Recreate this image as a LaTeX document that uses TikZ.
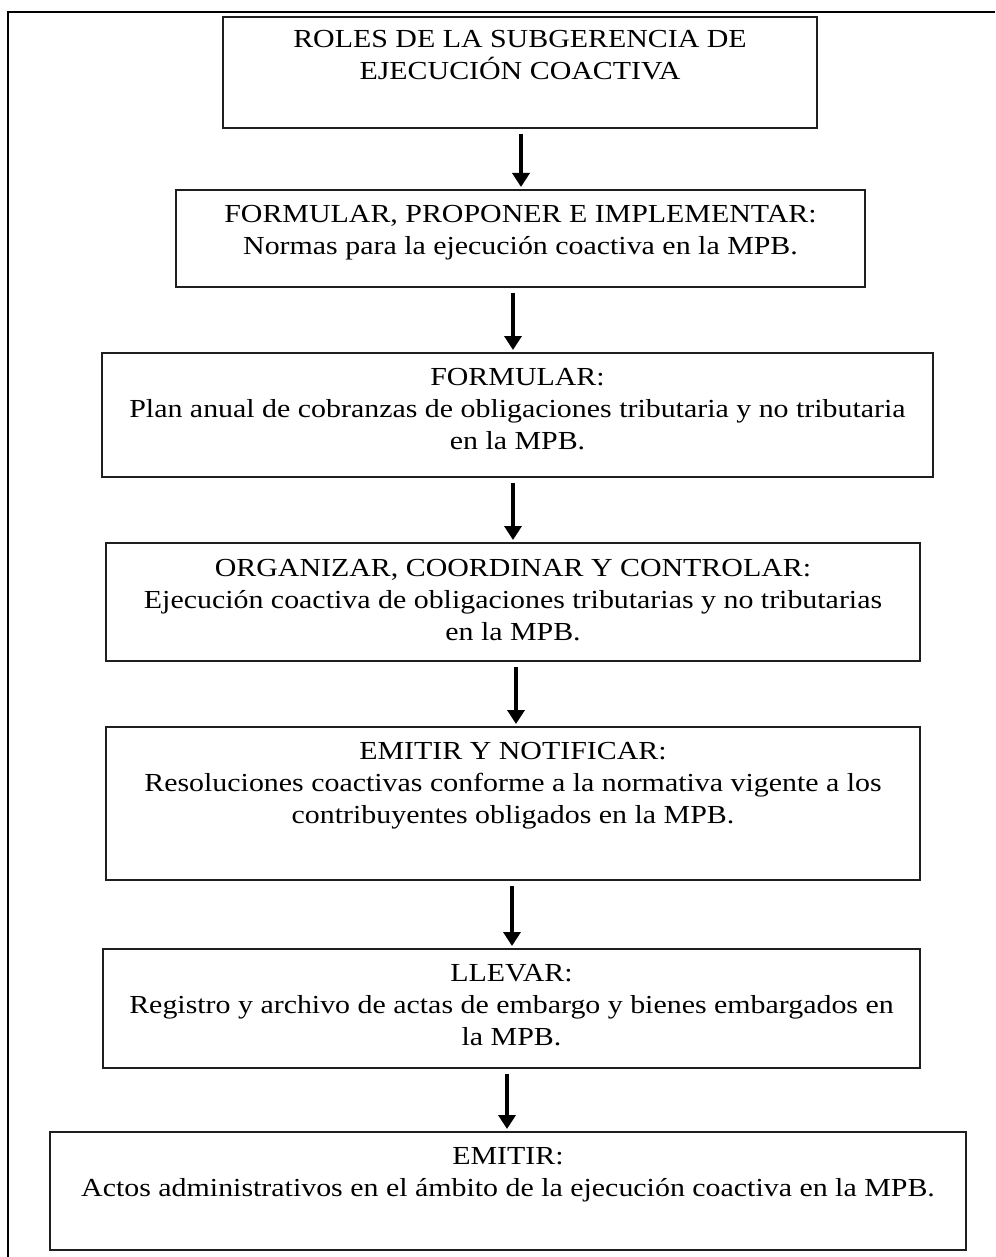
\documentclass[tikz,border=0pt]{standalone}
\usepackage{fontspec}
\setmainfont{Liberation Serif}[FakeStretch=1.15]
\usetikzlibrary{arrows.meta}
\begin{document}
\begin{tikzpicture}[x=1pt,y=-1pt,
  box/.style={draw=black!88, line width=2pt, inner sep=0pt, rectangle},
  lbl/.style={anchor=north, align=center, inner sep=0pt,
              font=\fontsize{26}{32}\selectfont,
              execute at begin node={\rule{0pt}{19pt}}},
  arr/.style={line width=4pt, -{Triangle[length=14pt,width=17pt]},
              shorten <=5pt, shorten >=2pt},
  frame/.style={line width=2pt, draw=black}]
\useasboundingbox (0,0) rectangle (995,1257);
\fill[white] (0,0) rectangle (995,1257);
% outer frame (top and left edges only, as cropped)
\coordinate (fr) at (995,12);
\coordinate (fc) at (8,12);
\coordinate (fb) at (8,1257);
\draw[frame] (fr) -- (fc) -- (fb);

% boxes
\node[box, minimum width=594pt, minimum height=111pt] (b1) at (520,72.5) {};
\node[box, minimum width=689pt, minimum height=97pt]  (b2) at (520.5,238.5) {};
\node[box, minimum width=831pt, minimum height=124pt] (b3) at (517.5,415) {};
\node[box, minimum width=814pt, minimum height=118pt] (b4) at (513,602) {};
\node[box, minimum width=814pt, minimum height=153pt] (b5) at (513,803.5) {};
\node[box, minimum width=817pt, minimum height=119pt] (b6) at (511.5,1008.5) {};
\node[box, minimum width=916pt, minimum height=118pt] (b7) at (508,1191) {};

% texts
\node[lbl] (t1) at ([yshift=-14.5pt]b1.north) {ROLES DE LA SUBGERENCIA DE\\EJECUCIÓN COACTIVA};
\node[lbl] (t2) at ([yshift=-16pt]b2.north) {FORMULAR, PROPONER E IMPLEMENTAR:\\Normas para la ejecución coactiva en la MPB.};
\node[lbl] (t3) at ([yshift=-16pt]b3.north) {FORMULAR:\\Plan anual de cobranzas de obligaciones tributaria y no tributaria\\en la MPB.};
\node[lbl] (t4) at ([yshift=-17pt]b4.north) {ORGANIZAR, COORDINAR Y CONTROLAR:\\Ejecución coactiva de obligaciones tributarias y no tributarias\\en la MPB.};
\node[lbl] (t5) at ([yshift=-16pt]b5.north) {EMITIR Y NOTIFICAR:\\Resoluciones coactivas conforme a la normativa vigente a los\\contribuyentes obligados en la MPB.};
\node[lbl] (t6) at ([yshift=-16pt]b6.north) {LLEVAR:\\Registro y archivo de actas de embargo y bienes embargados en\\la MPB.};
\node[lbl] (t7) at ([yshift=-16pt]b7.north) {EMITIR:\\Actos administrativos en el ámbito de la ejecución coactiva en la MPB.};

% arrows
\draw[arr] ([xshift=1pt]b1.south) -- ([xshift=0.5pt]b2.north);
\draw[arr] ([xshift=-7.5pt]b2.south) -- ([xshift=-4.5pt]b3.north);
\draw[arr] ([xshift=-4.5pt]b3.south) -- ([xshift=0pt]b4.north);
\draw[arr] ([xshift=3pt]b4.south) -- ([xshift=3pt]b5.north);
\draw[arr] ([xshift=-1pt]b5.south) -- ([xshift=0.5pt]b6.north);
\draw[arr] ([xshift=-4.5pt]b6.south) -- ([xshift=-1pt]b7.north);
\end{tikzpicture}
\end{document}
